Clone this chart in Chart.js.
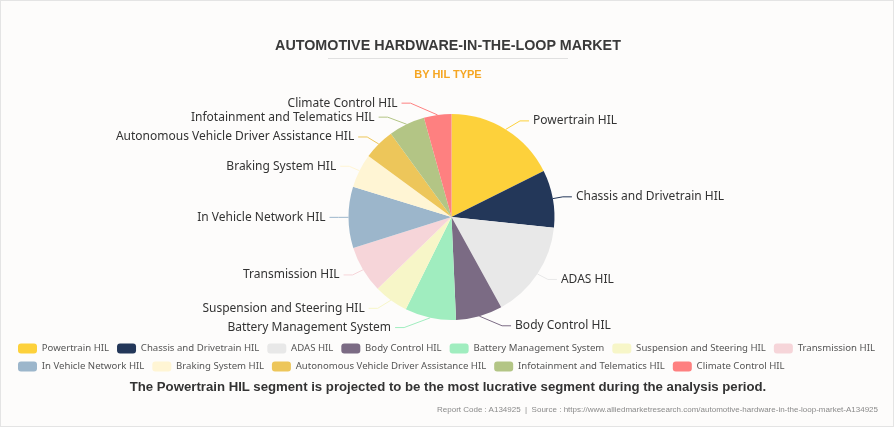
<!DOCTYPE html>
<html>
<head>
<meta charset="utf-8">
<title>Automotive Hardware-in-the-Loop Market</title>
<script src="https://cdn.jsdelivr.net/npm/chart.js@4.4.1/dist/chart.umd.min.js"></script>
<style>
  html, body { margin: 0; padding: 0; background: #fff; overflow: hidden; }
  #wrap { position: absolute; left: 0; top: 0; width: 892px; height: 425px; border: 1px solid #e4e4e4; background: #fdfcfb; }
  #chart { position: absolute; left: 0; top: 0; }
  .txt { position: absolute; left: 0; width: 896px; text-align: center; font-family: "Liberation Sans", Arial, sans-serif; white-space: nowrap; }
  #title { top: 37px; line-height: 16px; font-size: 14.3px; font-weight: bold; color: #3a3a3a; }
  #rule { position: absolute; left: 328px; top: 58px; width: 240px; height: 1px; background: #e0e0e0; }
  #subtitle { top: 67px; line-height: 14px; font-size: 11px; font-weight: bold; color: #f5a623; }
  #note { top: 378px; line-height: 18px; font-size: 13.2px; font-weight: bold; color: #333; }
  #source { top: 405px; left: auto; right: 18px; width: auto; line-height: 10px; font-size: 8px; color: #8a8a8a; text-align: right; }
</style>
</head>
<body>
<div id="wrap"></div>
<canvas id="chart" width="896" height="430"></canvas>
<div class="txt" id="title">AUTOMOTIVE HARDWARE-IN-THE-LOOP MARKET</div>
<div id="rule"></div>
<div class="txt" id="subtitle">BY HIL TYPE</div>
<div class="txt" id="note">The Powertrain HIL segment is projected to be the most lucrative segment during the analysis period.</div>
<div class="txt" id="source">Report Code : A134925&nbsp; |&nbsp; Source : https://www.alliedmarketresearch.com/automotive-hardware-in-the-loop-market-A134925</div>
<script>
// data (share of market, %)
const hilTypes = [
  "Powertrain HIL",
  "Chassis and Drivetrain HIL",
  "ADAS HIL",
  "Body Control HIL",
  "Battery Management System",
  "Suspension and Steering HIL",
  "Transmission HIL",
  "In Vehicle Network HIL",
  "Braking System HIL",
  "Autonomous Vehicle Driver Assistance HIL",
  "Infotainment and Telematics HIL",
  "Climate Control HIL",
];
const shares = [17.6, 9.0, 15.3, 7.3, 8.0, 5.4, 7.4, 9.6, 5.3, 4.9, 5.7, 4.3];
const sliceColors = [
  "#fdd13b", "#233759", "#e8e8e8", "#7b6b84", "#a0edbf", "#f7f6c8",
  "#f6d5d9", "#9cb6cb", "#fff5d4", "#edc65a", "#b3c585", "#fe8080",
];

// outside labels with leader lines
const pieLabels = {
  id: "pieLabels",
  afterDatasetsDraw(chart) {
    const ctx = chart.ctx;
    const meta = chart.getDatasetMeta(0);
    const len1 = 10, len2 = 9, gap = 4, lineH = 14;
    const items = meta.data.map((arc, i) => {
      const p = arc.getProps(["x", "y", "startAngle", "endAngle", "outerRadius"], true);
      const mid = (p.startAngle + p.endAngle) / 2;
      const cos = Math.cos(mid), sin = Math.sin(mid);
      return {
        text: chart.data.labels[i],
        color: chart.data.datasets[0].backgroundColor[i],
        cx: p.x, cy: p.y, r: p.outerRadius,
        x0: p.x + p.outerRadius * cos,
        y0: p.y + p.outerRadius * sin,
        y: p.y + (p.outerRadius + len1) * sin,
        dir: cos < 0 ? -1 : 1,
      };
    });

    // push overlapping labels apart on each side
    [-1, 1].forEach((dir) => {
      const list = items.filter((it) => it.dir === dir).sort((a, b) => a.y - b.y);
      for (let k = 0; k < 60; k++) {
        let moved = false;
        for (let i = 1; i < list.length; i++) {
          const d = list[i].y - list[i - 1].y - lineH;
          if (d < -0.01) {
            list[i].y -= d / 2;
            list[i - 1].y += d / 2;
            moved = true;
          }
        }
        if (!moved) break;
      }
    });

    ctx.save();
    ctx.font = '12px "Noto Sans"';
    ctx.textBaseline = "middle";
    items.forEach((it) => {
      const R = it.r + len1 + len2 + gap;
      const dy = it.y - it.cy;
      const dx = Math.sqrt(Math.max(R * R - dy * dy, 0));
      const tx = it.cx + it.dir * dx;
      const bx = tx - it.dir * (gap + len2);
      ctx.strokeStyle = it.color;
      ctx.lineWidth = 1;
      ctx.beginPath();
      ctx.moveTo(it.x0, it.y0);
      ctx.lineTo(bx, it.y);
      ctx.lineTo(tx - it.dir * gap, it.y);
      ctx.stroke();
      ctx.fillStyle = "#333";
      ctx.textAlign = it.dir < 0 ? "right" : "left";
      ctx.fillText(it.text, tx, it.y);
    });
    ctx.restore();
  },
};

var ctx = document.getElementById("chart");

new Chart(ctx, {
  type: "pie",
  data: {
    labels: hilTypes,
    datasets: [
      {
        data: shares,
        backgroundColor: sliceColors,
        borderWidth: 0,
        radius: 103,
      },
    ],
  },
  options: {
    responsive: false,
    animation: false,
    layout: {
      padding: { top: 98.5, bottom: 48.5, left: 10, right: 3 },
    },
    plugins: {
      legend: {
        position: "bottom",
        align: "start",
        labels: {
          boxWidth: 19,
          boxHeight: 10,
          useBorderRadius: true,
          borderRadius: 3,
          padding: 8,
          color: "#555",
          font: { family: "Noto Sans", size: 9.6 },
        },
      },
      tooltip: { enabled: false },
    },
  },
  plugins: [pieLabels],
});
</script>
</body>
</html>
